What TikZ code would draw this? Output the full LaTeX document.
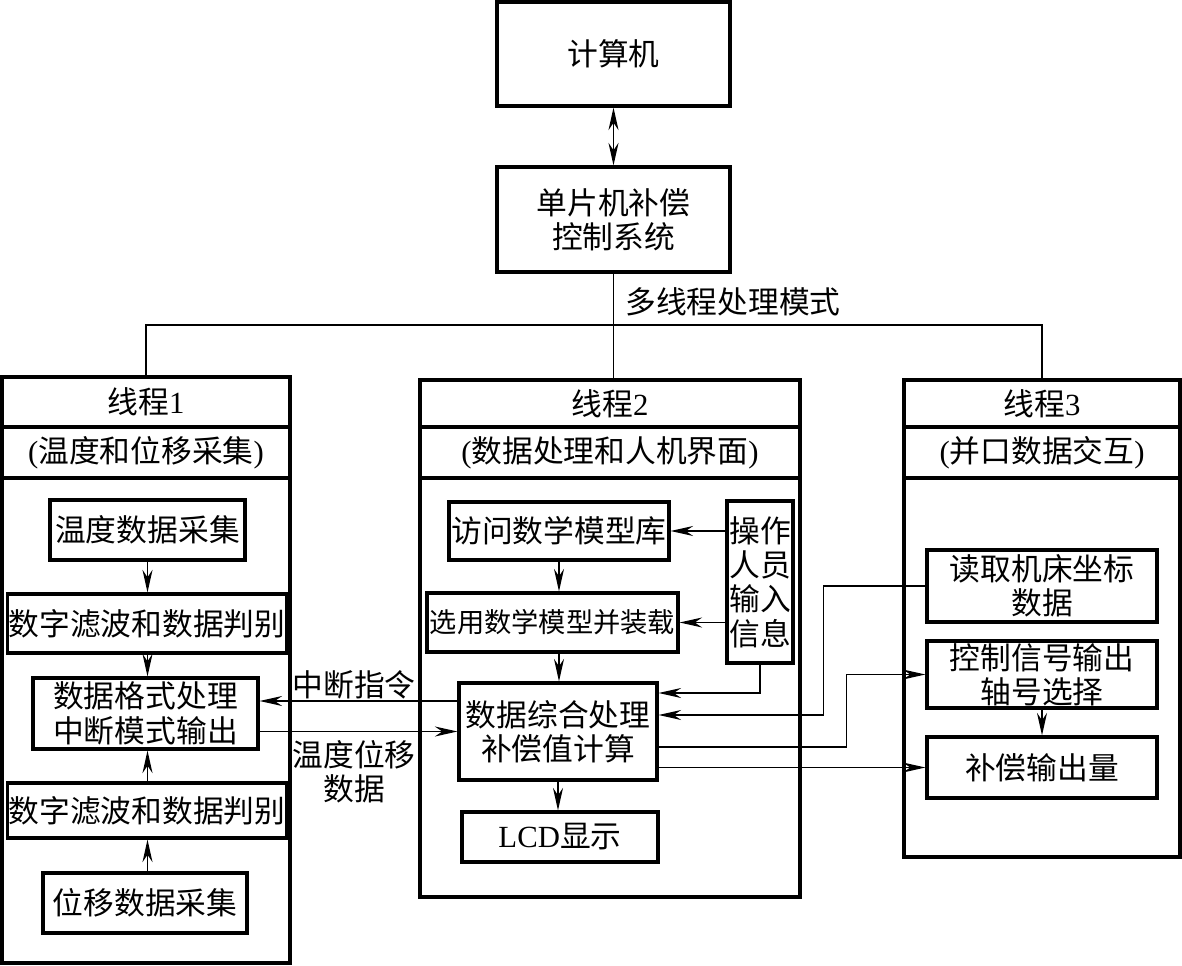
\documentclass[tikz,border=0pt]{standalone}
\usepackage{fontspec}
\setmainfont{Noto Sans CJK SC}
\newfontfamily\latin{Liberation Serif}
\usetikzlibrary{positioning,arrows.meta}

\begin{document}
\begin{tikzpicture}[
  box/.style={draw, line width=1.8pt, inner sep=0.5pt, align=center, font=\fontsize{17.5}{19.5}\selectfont},
  frame/.style={draw, line width=2.2pt, inner sep=0pt, align=center, font=\fontsize{17.5}{19.5}\selectfont},
  lbl/.style={inner sep=0pt, align=center, font=\fontsize{17.5}{19.5}\selectfont},
  arr/.style={-{Stealth[length=4.5mm,width=2mm]}, line width=1pt},
  darr/.style={{Stealth[length=4.5mm,width=2mm]}-{Stealth[length=4.5mm,width=2mm]}, line width=1pt},
  wire/.style={line width=1pt}
]
\useasboundingbox (0,0) rectangle (23.64,-19.32);

% Top
\node[box, minimum width=4.66cm, minimum height=2.08cm] (pc) at (12.27,-1.08) {计算机};
\node[box, minimum width=4.66cm, minimum height=2.1cm] (mcu) at (12.27,-4.39) {单片机补偿\\控制系统};
\draw[darr] (pc.south) -- (mcu.north);

% Thread frames
\node[frame, minimum width=5.76cm, minimum height=1.0cm] (t1h) at (2.92,-8.04) {线程{\latin 1}};
\node[frame, minimum width=5.76cm, minimum height=1.02cm] (t1s) at (2.92,-9.05) {{\latin (}温度和位移采集{\latin )}};
\node[frame, minimum width=5.76cm, minimum height=9.7cm] (t1b) at (2.92,-14.41) {};

\node[frame, minimum width=7.6cm, minimum height=0.94cm] (t2h) at (12.2,-8.07) {线程{\latin 2}};
\node[frame, minimum width=7.6cm, minimum height=1.02cm] (t2s) at (12.2,-9.05) {{\latin (}数据处理和人机界面{\latin )}};
\node[frame, minimum width=7.6cm, minimum height=8.38cm] (t2b) at (12.2,-13.75) {};

\node[frame, minimum width=5.52cm, minimum height=0.94cm] (t3h) at (20.84,-8.07) {线程{\latin 3}};
\node[frame, minimum width=5.52cm, minimum height=1.02cm] (t3s) at (20.84,-9.05) {{\latin (}并口数据交互{\latin )}};
\node[frame, minimum width=5.52cm, minimum height=7.58cm] (t3b) at (20.84,-13.35) {};

% Bus
\coordinate (bus) at (12.26,-6.5);
\draw[wire] (mcu.south) -- (mcu.south |- bus);
\draw[wire] (t1h.north) |- (bus) -| (t3h.north);
\draw[wire] (mcu.south |- bus) -- (mcu.south |- t2h.north);
\node[lbl, anchor=west] (dxc) at (12.5,-6.04) {多线程处理模式};

% Thread 1
\node[box, minimum width=3.9cm, minimum height=1.2cm] (wdcj) at (2.95,-10.6) {温度数据采集};
\node[box, minimum width=5.56cm, minimum height=1.18cm] (lb1) at (2.94,-12.47) {数字滤波和数据判别};
\node[box, minimum width=4.5cm, minimum height=1.42cm] (gscl) at (2.91,-14.27) {数据格式处理\\中断模式输出};
\node[box, minimum width=5.56cm, minimum height=1.1cm] (lb2) at (2.94,-16.21) {数字滤波和数据判别};
\node[box, minimum width=4.08cm, minimum height=1.2cm] (wycj) at (2.9,-18.06) {位移数据采集};

\draw[arr] (wdcj.south) -- (wdcj.south |- lb1.north);
\draw[arr] (wdcj.south |- lb1.south) -- (wdcj.south |- gscl.north);
\draw[arr] (wdcj.south |- lb2.north) -- (wdcj.south |- gscl.south);
\draw[arr] (wdcj.south |- wycj.north) -- (wdcj.south |- lb2.south);

% Thread 2
\node[box, minimum width=4.4cm, minimum height=1.16cm] (fwmx) at (11.18,-10.62) {访问数学模型库};
\node[box, minimum width=5.02cm, minimum height=1.18cm, font=\fontsize{15.5}{18}\selectfont] (xymx) at (11.05,-12.45) {选用数学模型并装载};
\node[box, minimum width=1.32cm, minimum height=3.24cm] (czry) at (15.2,-11.64) {操作\\人员\\输入\\信息};
\node[box, minimum width=3.96cm, minimum height=1.94cm] (zhcl) at (11.16,-14.63) {数据综合处理\\补偿值计算};
\node[box, minimum width=3.92cm, minimum height=1.0cm] (lcd) at (11.2,-16.74) {{\latin LCD}显示};

\draw[arr] (fwmx.east -| czry.west) -- (fwmx.east);
\draw[arr] (xymx.east -| czry.west) -- (xymx.east);
\draw[arr] (czry.south) |- ([yshift=0.77cm]zhcl.east);
\draw[arr] (fwmx.south) -- (fwmx.south |- xymx.north);
\draw[arr] (fwmx.south |- xymx.south) -- (fwmx.south |- zhcl.north);
\draw[arr] (zhcl.south) -- (zhcl.south |- lcd.north);

% Thread 1 <-> thread 2
\draw[arr] ([yshift=0.61cm]zhcl.west) coordinate (zd) -- (gscl.east |- zd);
\draw[arr] (zhcl.west -| gscl.east) -- (zhcl.west);
\node[lbl] (zdzl) at (7.08,-13.7) {中断指令};
\node[lbl] (wdwy) at (7.08,-15.44) {温度位移\\数据};

% Thread 3
\node[box, minimum width=4.6cm, minimum height=1.44cm] (dqzb) at (20.84,-11.72) {读取机床坐标\\数据};
\node[box, minimum width=4.6cm, minimum height=1.34cm] (kzxh) at (20.84,-13.49) {控制信号输出\\轴号选择};
\node[box, minimum width=4.6cm, minimum height=1.22cm] (bcsc) at (20.84,-15.35) {补偿输出量};

\draw[arr] (dqzb.west) -- ++(-2.04,0) |- ([yshift=0.33cm]zhcl.east);
\draw[arr] ([yshift=-0.31cm]zhcl.east) -| ([xshift=-1.58cm]kzxh.west) -- (kzxh.west);
\draw[arr] (zhcl.east |- bcsc.west) -- (bcsc.west);
\draw[arr] (kzxh.south) -- (bcsc.north);

\end{tikzpicture}
\end{document}
